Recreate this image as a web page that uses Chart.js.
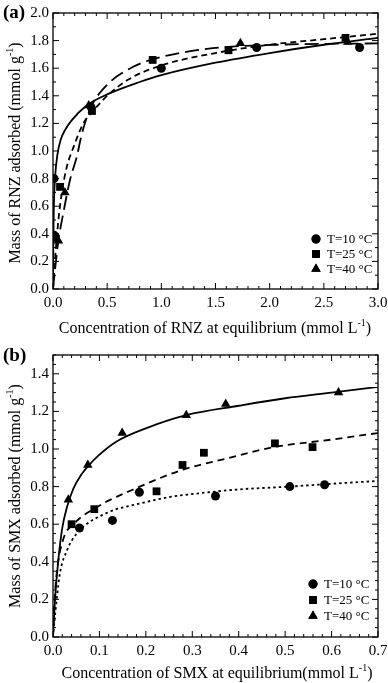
<!DOCTYPE html>
<html lang="en">
<head>
<meta charset="UTF-8">
<title>Adsorption isotherms</title>
<script src="https://cdn.jsdelivr.net/npm/chart.js"></script>
<style>
  body { margin: 0; background: #fff; width: 388px; height: 683px; position: relative; overflow: hidden;
         font-family: "Liberation Serif", "DejaVu Serif", serif; color: #000; }
  .panel { position: absolute; left: 0; width: 388px; }
  .panel canvas { display: block; }
  .lbl { position: absolute; font-size: 16px; white-space: nowrap; }
  .lbl sup { font-size: 10px; }
  .ytitle { transform: translate(-50%, -50%) rotate(-90deg); }
  .xtitle { transform: translate(-50%, -50%); }
  .tag { position: absolute; font-weight: bold; font-size: 19px; }
</style>
</head>
<body>
<div class="panel" style="top:0;height:340px"><canvas id="chartA" width="388" height="340"></canvas></div>
<div class="panel" style="top:340px;height:343px"><canvas id="chartB" width="388" height="343"></canvas></div>

<div class="tag" style="left:3px;top:1px">(a)</div>
<div class="tag" style="left:3px;top:344px">(b)</div>
<div class="lbl ytitle" style="left:14px;top:153px">Mass of RNZ adsorbed (mmol g<sup>-1</sup>)</div>
<div class="lbl xtitle" style="left:215px;top:327px">Concentration of RNZ at equilibrium (mmol L<sup>-1</sup>)</div>
<div class="lbl ytitle" style="left:14px;top:496px">Mass of SMX adsorbed (mmol g<sup>-1</sup>)</div>
<div class="lbl xtitle" style="left:217px;top:672px">Concentration of SMX at equilibrium(mmol L<sup>-1</sup>)</div>

<script>
// ---- panel (a): RNZ ----
var legendLabels = ['T=10 °C', 'T=25 °C', 'T=40 °C'];

var rnz10 = [[0.01, 0.80], [0.01, 0.39], [0.35, 1.32], [1.00, 1.60], [1.88, 1.75], [2.83, 1.75]];
var rnz25 = [[0.02, 0.37], [0.065, 0.74], [0.36, 1.29], [0.92, 1.66], [1.62, 1.73], [2.70, 1.82]];
var rnz40 = [[0.05, 0.35], [0.11, 0.70], [0.33, 1.33], [1.73, 1.78], [2.72, 1.79]];

var rnzFit10 = [[0, 0], [0.002, 0.25], [0.005, 0.47], [0.01, 0.66], [0.02, 0.82], [0.04, 0.97], [0.07, 1.08],
  [0.11, 1.15], [0.17, 1.22], [0.31, 1.33], [0.5, 1.41], [0.8, 1.50], [1.0, 1.55], [1.5, 1.64], [2.0, 1.71], [2.5, 1.77], [3.0, 1.82]];
var rnzFit25 = [[0, 0], [0.01, 0.12], [0.018, 0.21], [0.05, 0.50], [0.08, 0.69], [0.126, 0.88], [0.19, 1.03],
  [0.28, 1.20], [0.37, 1.29], [0.5, 1.40], [0.7, 1.52], [1.0, 1.62], [1.5, 1.71], [2.0, 1.77], [2.5, 1.81], [3.0, 1.85]];
var rnzFit40 = [[0, 0], [0.02, 0.15], [0.05, 0.35], [0.095, 0.55], [0.157, 0.79], [0.22, 0.96], [0.265, 1.12],
  [0.34, 1.30], [0.5, 1.48], [0.74, 1.61], [0.9, 1.66], [1.42, 1.74], [2.07, 1.77], [3.0, 1.78]];

var xTicksA = [0, 0.5, 1.0, 1.5, 2.0, 2.5, 3.0];
var yTicksA = [0, 0.2, 0.4, 0.6, 0.8, 1.0, 1.2, 1.4, 1.6, 1.8, 2.0];

// ---- panel (b): SMX ----
var smx10 = [[0.057, 0.58], [0.128, 0.62], [0.186, 0.77], [0.35, 0.75], [0.51, 0.80], [0.585, 0.81]];
var smx25 = [[0.04, 0.60], [0.089, 0.68], [0.223, 0.775], [0.279, 0.915], [0.325, 0.98], [0.478, 1.03], [0.559, 1.01]];
var smx40 = [[0.033, 0.73], [0.075, 0.915], [0.149, 1.085], [0.287, 1.18], [0.372, 1.24], [0.615, 1.30]];

var smxFit10 = [[0, 0], [0.003, 0.08], [0.008, 0.20], [0.015, 0.34], [0.03, 0.46], [0.051, 0.55], [0.116, 0.66],
  [0.187, 0.71], [0.252, 0.745], [0.317, 0.765], [0.4, 0.785], [0.51, 0.80], [0.6, 0.815], [0.7, 0.83]];
var smxFit25 = [[0, 0], [0.003, 0.18], [0.008, 0.34], [0.022, 0.52], [0.044, 0.60], [0.094, 0.69], [0.187, 0.80],
  [0.28, 0.89], [0.375, 0.95], [0.475, 1.01], [0.6, 1.05], [0.7, 1.085]];
var smxFit40 = [[0, 0], [0.002, 0.10], [0.0043, 0.20], [0.0115, 0.41], [0.02, 0.58], [0.03, 0.69], [0.044, 0.79],
  [0.06, 0.86], [0.076, 0.91], [0.1, 0.97], [0.137, 1.04], [0.2, 1.11], [0.287, 1.18], [0.4, 1.23], [0.5, 1.27], [0.6, 1.30], [0.7, 1.33]];

var xTicksB = [0, 0.1, 0.2, 0.3, 0.4, 0.5, 0.6, 0.7];
var yTicksB = [0, 0.2, 0.4, 0.6, 0.8, 1.0, 1.2, 1.4];

function pts(arr) {
  return arr.map(function (p) { return { x: p[0], y: p[1] }; });
}

function markers(arr, style, r) {
  return { type: 'scatter', data: pts(arr), pointStyle: style, pointRadius: r, pointHoverRadius: r,
           backgroundColor: '#000', borderColor: '#000', borderWidth: 0, isMarker: true };
}

function fit(arr, dash) {
  return { type: 'line', data: pts(arr), showLine: true, pointRadius: 0, borderColor: '#000',
           borderWidth: 1.8, borderDash: dash, fill: false, cubicInterpolationMode: 'monotone' };
}

// inward ticks on all four sides + frame
var framePlugin = {
  id: 'frame',
  afterDraw: function (chart, args, opts) {
    var ctx = chart.ctx, a = chart.chartArea;
    var xs = chart.scales.x, ys = chart.scales.y;
    ctx.save();
    ctx.strokeStyle = '#000';
    ctx.lineWidth = 1.3;
    ctx.strokeRect(a.left, a.top, a.right - a.left, a.bottom - a.top);
    ctx.lineWidth = 1;
    ctx.beginPath();
    var n, v, p, len, i;
    n = Math.round((xs.max - xs.min) / opts.xMinor);
    for (i = 0; i <= n; i++) {
      v = xs.min + i * opts.xMinor;
      p = xs.getPixelForValue(v);
      len = (i % opts.xEvery === 0) ? 6 : 3;
      ctx.moveTo(p, a.bottom); ctx.lineTo(p, a.bottom - len);
      ctx.moveTo(p, a.top); ctx.lineTo(p, a.top + len);
    }
    n = Math.round((opts.yTop - ys.min) / opts.yMinor);
    for (i = 0; i <= n; i++) {
      v = ys.min + i * opts.yMinor;
      p = ys.getPixelForValue(v);
      len = (i % opts.yEvery === 0) ? 6 : 3;
      ctx.moveTo(a.left, p); ctx.lineTo(a.left + len, p);
      ctx.moveTo(a.right, p); ctx.lineTo(a.right - len, p);
    }
    ctx.stroke();
    ctx.restore();
  }
};

// legend drawn inside the plot
var keyPlugin = {
  id: 'key',
  afterDraw: function (chart, args, opts) {
    var ctx = chart.ctx;
    var sets = chart.data.datasets.filter(function (d) { return d.isMarker; });
    ctx.save();
    ctx.font = '13px "Liberation Serif", serif';
    ctx.textBaseline = 'middle';
    ctx.fillStyle = '#000';
    sets.forEach(function (d, i) {
      var y = opts.y + i * opts.gap;
      Chart.helpers.drawPoint(ctx, { pointStyle: d.pointStyle, radius: d.pointRadius, rotation: 0, borderWidth: 0 }, opts.x, y);
      ctx.fill();
      ctx.fillText(legendLabels[i], opts.x + 11, y + 1);
    });
    ctx.restore();
  }
};

function scaleOpts(min, max, tickList, fitSize, axis) {
  return {
    type: 'linear', min: min, max: max,
    grid: { display: false, drawTicks: false },
    border: { display: false },
    afterBuildTicks: function (s) { s.ticks = tickList.map(function (t) { return { value: t }; }); },
    afterFit: function (s) {
      if (axis === 'x') { s.height = fitSize; s.paddingRight = 10; }
      else s.width = fitSize;
    },
    ticks: {
      color: '#000', padding: axis === 'x' ? 5 : 4,
      font: { family: '"Liberation Serif", serif', size: 15 },
      callback: function (v) { return Number(v).toFixed(1); }
    }
  };
}

Chart.defaults.animation = false;

new Chart(document.getElementById('chartA'), {
  type: 'scatter',
  data: {
    datasets: [
      markers(rnz10, 'circle', 4.5),
      markers(rnz25, 'rect', 5.5),
      markers(rnz40, 'triangle', 5.5),
      fit(rnzFit10, []),
      fit(rnzFit25, [6, 4]),
      fit(rnzFit40, [14, 6])
    ]
  },
  options: {
    responsive: false,
    devicePixelRatio: 1,
    layout: { padding: { top: 12, right: 0, left: 0, bottom: 0 } },
    plugins: {
      legend: { display: false }, tooltip: { enabled: false },
      frame: { xMinor: 0.1, xEvery: 5, yMinor: 0.1, yEvery: 2, yTop: 2.0 },
      key: { x: 316, y: 239, gap: 15 }
    },
    scales: {
      x: scaleOpts(0, 3.0, xTicksA, 51, 'x'),
      y: scaleOpts(0, 2.0, yTicksA, 53, 'y')
    }
  },
  plugins: [framePlugin, keyPlugin]
});

new Chart(document.getElementById('chartB'), {
  type: 'scatter',
  data: {
    datasets: [
      markers(smx10, 'circle', 4.5),
      markers(smx25, 'rect', 5.5),
      markers(smx40, 'triangle', 5.5),
      fit(smxFit10, [2.5, 3]),
      fit(smxFit25, [7, 5]),
      fit(smxFit40, [])
    ]
  },
  options: {
    responsive: false,
    devicePixelRatio: 1,
    layout: { padding: { top: 15, right: 0, left: 0, bottom: 0 } },
    plugins: {
      legend: { display: false }, tooltip: { enabled: false },
      frame: { xMinor: 0.02, xEvery: 5, yMinor: 0.05, yEvery: 4, yTop: 1.5 },
      key: { x: 313, y: 244, gap: 16 }
    },
    scales: {
      x: scaleOpts(0, 0.7, xTicksB, 46, 'x'),
      y: scaleOpts(0, 1.5, yTicksB, 53, 'y')
    }
  },
  plugins: [framePlugin, keyPlugin]
});
</script>
</body>
</html>
